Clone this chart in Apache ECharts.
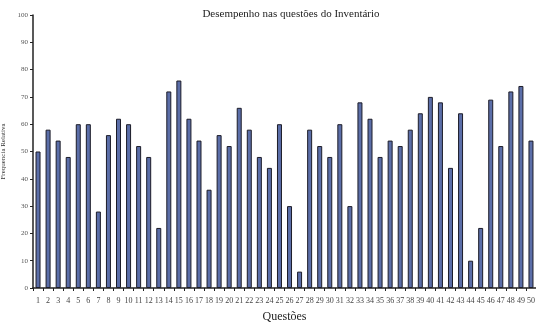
<!DOCTYPE html>
<html>
<head>
<meta charset="utf-8">
<script src="https://cdn.jsdelivr.net/npm/echarts@6/dist/echarts.min.js"></script>
<style>
  html, body { margin: 0; padding: 0; background: #fff; }
  #chart { width: 536px; height: 322px; }
</style>
</head>
<body>
<div id="chart"></div>
<script>
// questões 1..50
const questoes = [];
for (let i = 1; i <= 50; i++) questoes.push(String(i));

// frequência relativa (%)
const frequencia = [
  50, 58, 54, 48, 60, 60, 28, 56, 62, 60,
  52, 48, 22, 72, 76, 62, 54, 36, 56, 52,
  66, 58, 48, 44, 60, 30, 6, 58, 52, 48,
  60, 30, 68, 62, 48, 54, 52, 58, 64, 70,
  68, 44, 64, 10, 22, 69, 52, 72, 74, 54
];

const yTicks = [0, 10, 20, 30, 40, 50, 60, 70, 80, 90, 100];

const serif = '"Liberation Serif", "DejaVu Serif", serif';

const chart = echarts.init(document.getElementById('chart'));
const option = {
  backgroundColor: '#fff',
  animation: false,
  title: {
    text: 'Desempenho nas questões do Inventário',
    left: 286,
    textAlign: 'center',
    top: 4,
    textStyle: { fontFamily: serif, fontSize: 11, fontWeight: 'normal', color: '#222' }
  },
  grid: { left: 33, right: 0, top: 15, bottom: 34, containLabel: false, outerBoundsMode: 'none' },
  xAxis: {
    type: 'category',
    data: questoes,
    name: 'Questões',
    nameLocation: 'middle',
    nameGap: 23,
    nameTextStyle: { fontFamily: serif, fontSize: 12, color: '#222' },
    axisLine: { lineStyle: { color: '#222', width: 1.5 } },
    axisTick: { show: true, alignWithLabel: false, length: 3, lineStyle: { color: '#222' } },
    axisLabel: { interval: 0, fontFamily: serif, fontSize: 8, color: '#444', margin: 9 }
  },
  yAxis: {
    type: 'value',
    min: yTicks[0],
    max: yTicks[yTicks.length - 1],
    interval: 10,
    name: 'Frequencia Relativa',
    nameLocation: 'middle',
    nameGap: 21,
    nameTextStyle: { fontFamily: serif, fontSize: 7, color: '#333' },
    axisLine: { show: true, lineStyle: { color: '#222', width: 1.5 } },
    axisTick: { show: true, length: 3, lineStyle: { color: '#222' } },
    axisLabel: { fontFamily: serif, fontSize: 7, color: '#555', margin: 5 },
    splitLine: { show: false }
  },
  series: [
    {
      name: 'Frequencia Relativa',
      type: 'bar',
      data: frequencia,
      barWidth: 5,
      itemStyle: { color: '#5b6ea8', borderColor: '#1c1c28', borderWidth: 1 }
    }
  ]
};
chart.setOption(option);
</script>
</body>
</html>
